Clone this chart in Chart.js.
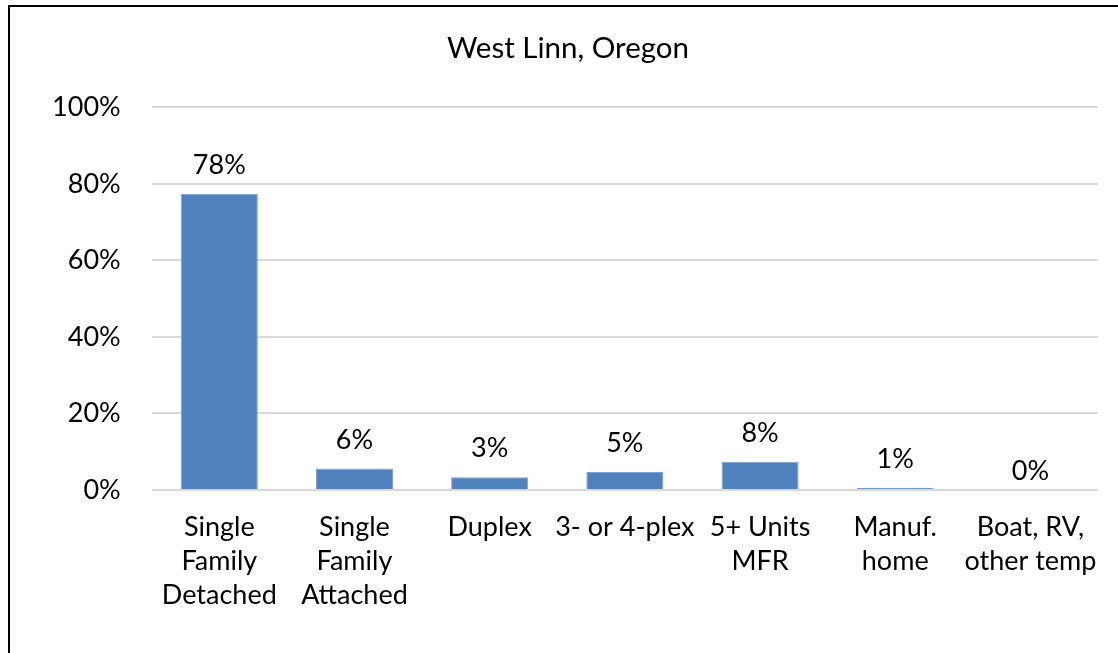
<!DOCTYPE html>
<html>
<head>
<meta charset="utf-8">
<script src="https://cdn.jsdelivr.net/npm/chart.js@4.4.1/dist/chart.umd.min.js"></script>
<style>
  html, body { margin: 0; padding: 0; background: #fff; overflow: hidden; }
  #wrap { position: relative; width: 1118px; height: 653px; }
  #frame { position: absolute; left: 8px; top: 5px; width: 1200px; height: 800px;
           border-left: 2px solid #000; border-top: 2px solid #000; pointer-events: none; }
  canvas { position: absolute; left: 0; top: 0; }
</style>
</head>
<body>
<div id="wrap">
  <canvas id="c" width="1118" height="653"></canvas>
  <div id="frame"></div>
</div>
<script>
const titleText = 'West Linn, Oregon';
const categories = [
  ['Single', 'Family', 'Detached'],
  ['Single', 'Family', 'Attached'],
  ['Duplex'],
  ['3- or 4-plex'],
  ['5+ Units', 'MFR'],
  ['Manuf.', 'home'],
  ['Boat, RV,', 'other temp']
];
const shares = [77.4, 5.6, 3.3, 4.7, 7.4, 0.6, 0.0];
const valueLabels = ['78%', '6%', '3%', '5%', '8%', '1%', '0%'];
const yTicks = [0, 20, 40, 60, 80, 100];

const FONT = 'Lato, "Open Sans", sans-serif';
const FS = 27;
const TFS = 29.5;
const PAD_LEFT = 38;

const valueLabelPlugin = {
  id: 'valueLabels',
  afterDatasetsDraw(chart) {
    const ctx = chart.ctx;
    const meta = chart.getDatasetMeta(0);
    ctx.save();
    ctx.font = FS + 'px ' + FONT;
    ctx.fillStyle = '#000';
    ctx.textAlign = 'center';
    ctx.textBaseline = 'alphabetic';
    meta.data.forEach((bar, i) => {
      const gap = shares[i] === 0 ? 10 : 20;
      ctx.fillText(valueLabels[i], bar.x, bar.y - gap);
    });
    ctx.restore();
  }
};

new Chart(document.getElementById('c'), {
  type: 'bar',
  data: {
    labels: categories,
    datasets: [{
      data: shares,
      backgroundColor: '#4F81BD',
      borderColor: '#7da0d0',
      borderWidth: 1,
      categoryPercentage: 1,
      barPercentage: 0.57
    }]
  },
  options: {
    responsive: false,
    animation: false,
    events: [],
    layout: { padding: { left: PAD_LEFT, right: 20, top: 0, bottom: 41 } },
    plugins: {
      legend: { display: false },
      tooltip: { enabled: false },
      title: {
        display: true,
        text: titleText,
        color: '#000',
        font: { family: FONT, size: TFS, weight: 'normal', lineHeight: 1.2 },
        padding: { top: 30.3, bottom: 41.6 }
      }
    },
    scales: {
      x: {
        grid: { display: false, drawTicks: false },
        border: { display: false },
        ticks: {
          color: '#000',
          font: { family: FONT, size: FS, lineHeight: 34 / FS },
          padding: 20,
          maxRotation: 0,
          autoSkip: false
        },
        afterFit(scale) { scale.height = 122; }
      },
      y: {
        min: 0,
        max: 100,
        afterBuildTicks(scale) { scale.ticks = yTicks.map(v => ({ value: v })); },
        grid: { color: '#d9d9d9', lineWidth: 2, drawTicks: false },
        border: { display: false },
        ticks: {
          color: '#000',
          font: { family: FONT, size: FS },
          padding: 31,
          callback: v => v + '%'
        },
        afterFit(scale) { scale.width = 151.7 - PAD_LEFT; }
      }
    }
  },
  plugins: [valueLabelPlugin]
});
</script>
</body>
</html>
